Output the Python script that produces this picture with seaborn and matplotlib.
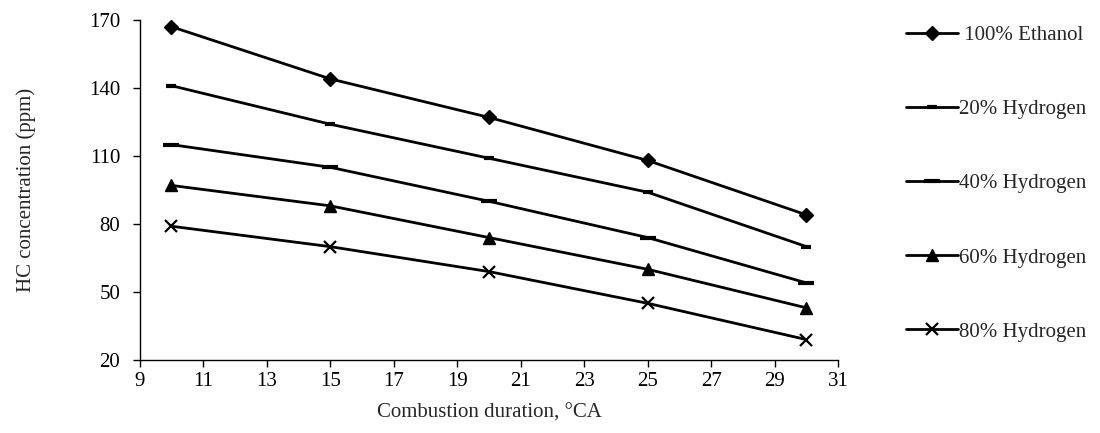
import matplotlib
matplotlib.use("Agg")
import matplotlib.pyplot as plt
import seaborn as sns
import pandas as pd

duration = [10, 15, 20, 25, 30]
series_names = ["100% Ethanol", "20% Hydrogen", "40% Hydrogen", "60% Hydrogen", "80% Hydrogen"]
ethanol100 = [167, 144, 127, 108, 84]
hydrogen20 = [141, 124, 109, 94, 70]
hydrogen40 = [115, 105, 90, 74, 54]
hydrogen60 = [97, 88, 74, 60, 43]
hydrogen80 = [79, 70, 59, 45, 29]
x_ticks = list(range(9, 32, 2))
y_ticks = [20, 50, 80, 110, 140, 170]

values = [ethanol100, hydrogen20, hydrogen40, hydrogen60, hydrogen80]
df = pd.DataFrame({
    "duration": duration * len(series_names),
    "hc": [v for s in values for v in s],
    "series": [n for n in series_names for _ in duration],
})

sns.set_theme(style="white")
plt.rcParams["font.family"] = ["Liberation Serif", "DejaVu Serif"]

fig = plt.figure(figsize=(11, 4.33), dpi=100)
ax = fig.add_axes([0.127, 0.1686, 0.635, 0.7854])

styles = {
    "100% Ethanol": dict(marker="D", markersize=7, markeredgewidth=1),
    "20% Hydrogen": dict(marker="_", markersize=7, markeredgewidth=3),
    "40% Hydrogen": dict(marker="_", markersize=11, markeredgewidth=3),
    "60% Hydrogen": dict(marker="^", markersize=9, markeredgewidth=1),
    "80% Hydrogen": dict(marker="x", markersize=8, markeredgewidth=1.6),
}
for name in series_names:
    sub = df[df["series"] == name]
    label = " " + name if name == "100% Ethanol" else name
    sns.lineplot(data=sub, x="duration", y="hc", ax=ax, color="black", linewidth=2,
                 label=label, markerfacecolor="black", markeredgecolor="black",
                 **styles[name])

ax.set_xlim(9, 31)
ax.set_ylim(20, 170)
ax.set_xticks(x_ticks)
ax.set_yticks(y_ticks)
for s in ["top", "right"]:
    ax.spines[s].set_visible(False)
for s in ["left", "bottom"]:
    ax.spines[s].set_color("black")
    ax.spines[s].set_linewidth(1)
ax.tick_params(axis="both", which="major", direction="out", length=5, width=1,
               colors="black", labelsize=15, bottom=True, left=True)
ax.tick_params(axis="y", pad=9)
ax.tick_params(axis="x", pad=4)
ax.set_xlabel("Combustion duration, °CA", fontsize=15, labelpad=9)
ax.set_ylabel("HC concentration (ppm)", fontsize=15, labelpad=38)

leg = ax.legend(loc="upper left", bbox_to_anchor=(1.085, 1.008), frameon=False,
                fontsize=15, labelspacing=2.62, handlelength=2.5, handletextpad=0.05,
                borderaxespad=0)

fig.savefig("out.png", dpi=100)
